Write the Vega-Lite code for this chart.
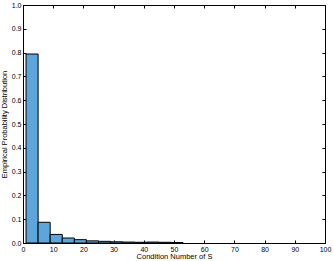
{
  "$schema": "https://vega.github.io/schema/vega-lite/v6.json",
  "width": 302,
  "height": 238,
  "autosize": {"type": "none"},
  "padding": {"left": 23, "top": 5, "right": 8, "bottom": 18},
  "background": "white",
  "config": {
    "view": {"stroke": "black", "strokeWidth": 1},
    "font": "Liberation Sans",
    "axis": {
      "grid": false,
      "domainColor": "black",
      "tickColor": "black",
      "labelColor": "black",
      "titleColor": "black",
      "labelFont": "Liberation Sans",
      "titleFont": "Liberation Sans",
      "labelFontSize": 7,
      "titleFontSize": 7.5,
      "titleFontWeight": "normal",
      "tickSize": -3,
      "labelPadding": 5
    }
  },
  "data": {
    "values": [
      {"start": 1, "end": 5, "p": 0.794},
      {"start": 5, "end": 9, "p": 0.087},
      {"start": 9, "end": 13, "p": 0.036},
      {"start": 13, "end": 17, "p": 0.021},
      {"start": 17, "end": 21, "p": 0.014},
      {"start": 21, "end": 25, "p": 0.009},
      {"start": 25, "end": 29, "p": 0.007},
      {"start": 29, "end": 33, "p": 0.005},
      {"start": 33, "end": 37, "p": 0.004},
      {"start": 37, "end": 41, "p": 0.003},
      {"start": 41, "end": 45, "p": 0.004},
      {"start": 45, "end": 49, "p": 0.003},
      {"start": 49, "end": 53, "p": 0.002}
    ]
  },
  "layer": [
    {
      "mark": {"type": "bar", "fill": "#5DA6DB", "stroke": "black", "strokeWidth": 1},
      "encoding": {
        "x": {"field": "start", "type": "quantitative", "scale": {"domain": [0, 100], "nice": false},
          "axis": {"orient": "bottom", "values": [0,10,20,30,40,50,60,70,80,90,100], "title": "Condition Number of  S", "titlePadding": 0, "labelFlush": false}},
        "x2": {"field": "end"},
        "y": {"field": "p", "type": "quantitative", "scale": {"domain": [0, 1], "nice": false},
          "axis": {"orient": "left", "values": [0,0.1,0.2,0.3,0.4,0.5,0.6,0.7,0.8,0.9,1], "title": "Empirical Probability Distribution", "titlePadding": 3, "labelFlush": false}},
        "y2": {"datum": 0}
      }
    },
    {
      "mark": {"type": "point", "opacity": 0},
      "encoding": {
        "x": {"field": "start", "type": "quantitative", "scale": {"domain": [0, 100], "nice": false},
          "axis": {"orient": "top", "values": [0,10,20,30,40,50,60,70,80,90,100], "labels": false, "title": null}},
        "y": {"field": "p", "type": "quantitative", "scale": {"domain": [0, 1], "nice": false},
          "axis": {"orient": "right", "values": [0,0.1,0.2,0.3,0.4,0.5,0.6,0.7,0.8,0.9,1], "labels": false, "title": null}}
      }
    }
  ],
  "resolve": {"scale": {"x": "independent", "y": "independent"}}
}
